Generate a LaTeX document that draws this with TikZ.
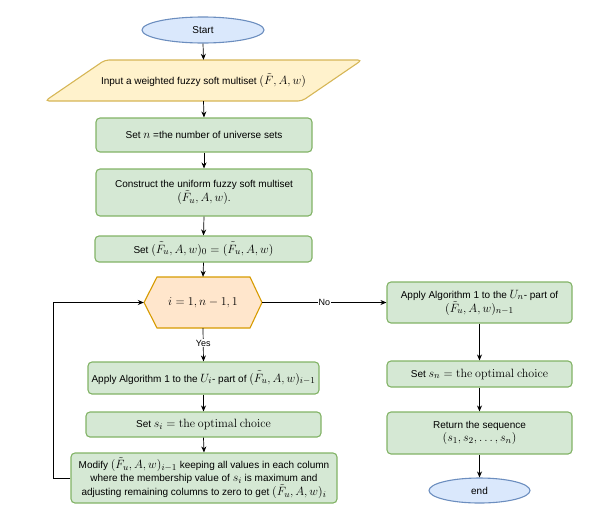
\documentclass[tikz,border=0pt]{standalone}
\usepackage[no-math]{fontspec}
\setmainfont{Liberation Sans}
\usetikzlibrary{arrows.meta,shapes.geometric}
\DeclareMathSizes{10}{12}{9}{7}
\DeclareMathSizes{9}{11}{8}{6}
\definecolor{bluef}{HTML}{DAE8FC}
\definecolor{blued}{HTML}{6C8EBF}
\definecolor{yelf}{HTML}{FFF2CC}
\definecolor{yeld}{HTML}{D6B656}
\definecolor{grnf}{HTML}{D5E8D4}
\definecolor{grnd}{HTML}{82B366}
\definecolor{orf}{HTML}{FFE6CC}
\definecolor{ord}{HTML}{D79B00}
\begin{document}
\begin{tikzpicture}[x=1pt,y=-1pt,
  font=\fontsize{10}{13}\selectfont,
  gbox/.style={draw=grnd, fill=grnf, line width=1.1pt, rounded corners=4pt, align=center, inner sep=2pt},
  term/.style={ellipse, draw=blued, fill=bluef, line width=1.1pt, inner sep=0pt},
  ghost/.style={inner sep=0pt, align=center},
  conn/.style={-{Stealth[length=6pt,width=5pt]}, line width=0.7pt},
  lab/.style={fill=white, inner sep=1pt, font=\fontsize{9}{10}\selectfont}]
\useasboundingbox (0,0) rectangle (596,509);

\node[term, minimum width=122pt, minimum height=26pt] (start) at (203,30) {Start};

\draw[draw=yeld, fill=yelf, line width=1.1pt, rounded corners=4pt]
  (105,60) -- (362,60) -- (302,101) -- (45,101) -- cycle;
\node[ghost, minimum width=317pt, minimum height=41pt] (inp) at (203.5,80.5) {Input a weighted fuzzy soft multiset $(\tilde{F},A,w)$};

\node[gbox, minimum width=216pt, minimum height=34pt] (setn) at (204,135) {Set $n$ =the number of universe sets};
\node[gbox, minimum width=216pt, minimum height=47pt] (cons) at (204,192.5) {Construct the uniform fuzzy soft multiset\\$(\tilde{F}_u,A,w)$.};
\node[gbox, minimum width=217pt, minimum height=26pt] (set0) at (203.5,249) {Set $(\tilde{F}_u,A,w)_0=(\tilde{F}_u,A,w)$};

\draw[draw=ord, fill=orf, line width=1.1pt]
  (144,302.5) -- (157,277) -- (250,277) -- (262,302.5) -- (250,328) -- (157,328) -- cycle;
\node[ghost, minimum width=118pt, minimum height=51pt] (hex) at (203,302.5) {$i=1,n-1,1$};

\node[gbox, minimum width=231pt, minimum height=32pt] (a1) at (203.5,378) {Apply Algorithm 1 to the $U_i$- part of $(\tilde{F}_u,A,w)_{i-1}$};
\node[gbox, minimum width=235pt, minimum height=25pt] (si) at (203.5,424.5) {Set $s_i=\mathrm{the\ optimal\ choice}$};
\node[gbox, minimum width=266pt, minimum height=50pt] (mod) at (204,478) {Modify $(\tilde{F}_u,A,w)_{i-1}$ keeping all values in each column\\where the membership value of $s_i$ is maximum and\\adjusting remaining columns to zero to get $(\tilde{F}_u,A,w)_i$};

\node[gbox, minimum width=185pt, minimum height=41pt] (b1) at (479.5,302.5) {Apply Algorithm 1 to the $U_n$- part of\\$(\tilde{F}_u,A,w)_{n-1}$};
\node[gbox, minimum width=185pt, minimum height=26pt] (sn) at (479.5,374) {Set $s_n=\mathrm{the\ optimal\ choice}$};
\node[gbox, minimum width=185pt, minimum height=42pt] (ret) at (479.5,433) {Return the sequence\\$(s_1,s_2,\ldots,s_n)$};
\node[term, minimum width=101pt, minimum height=25pt] (end) at (479.5,490.5) {end};

\draw[conn] (start.south) -- (inp.north);
\draw[conn] (inp.south) -- (setn.north);
\draw[conn] (setn.south) -- (cons.north);
\draw[conn] (cons.south) -- (set0.north);
\draw[conn] (set0.south) -- (hex.north);
\draw[conn] (hex.south) -- node[lab, pos=0.45] {Yes} (a1.north);
\draw[conn] (hex.east) -- node[lab] {No} (b1.west);
\draw[conn] (a1.south) -- (si.north);
\draw[conn] (si.south) -- (mod.north);
\draw[conn] (mod.west) -- ++(-17,0) |- (hex.west);
\draw[conn] (b1.south) -- (sn.north);
\draw[conn] (sn.south) -- (ret.north);
\draw[conn] (ret.south) -- (end.north);
\end{tikzpicture}
\end{document}
